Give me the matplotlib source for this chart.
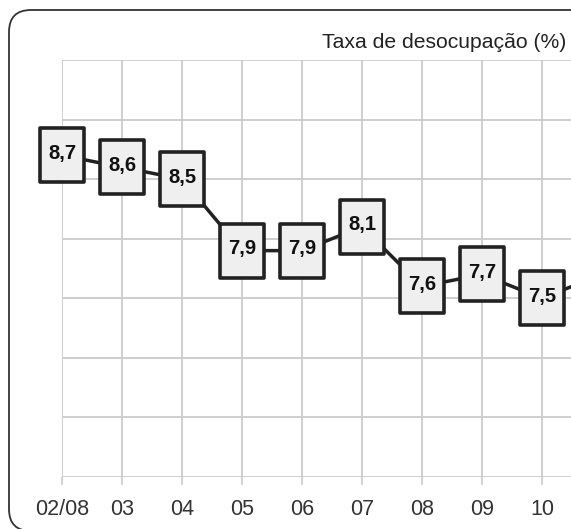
import matplotlib
matplotlib.use("Agg")
import matplotlib.pyplot as plt
from matplotlib.path import Path
from matplotlib.patches import FancyBboxPatch
from matplotlib.transforms import IdentityTransform, offset_copy
from matplotlib import font_manager

months = ["02/08", "03", "04", "05", "06", "07", "08", "09", "10", "11"]
values = [8.7, 8.6, 8.5, 7.9, 7.9, 8.1, 7.6, 7.7, 7.5, 7.7]
labels = ["8,7", "8,6", "8,5", "7,9", "7,9", "8,1", "7,6", "7,7", "7,5", ""]
title = "Taxa de desocupação (%)"

names = {f.name for f in font_manager.fontManager.ttflist}
label_font = "Liberation Sans Narrow" if "Liberation Sans Narrow" in names else "Liberation Sans"
label_size = 17 if label_font == "Liberation Sans Narrow" else 14.5

W, H = 571, 529
fig = plt.figure(figsize=(W / 100, H / 100), dpi=100)
fig.patch.set_facecolor("white")

ax = fig.add_axes([62 / W, (H - 477) / H, 1 - 62 / W, (477 - 60) / H])
ax.set_xlim(0, (W - 62) / 60.0)
ax.set_ylim(6.0, 9.5)
ax.set_facecolor("none")
for s in ax.spines.values():
    s.set_visible(False)

x = list(range(len(values)))
ax.set_xticks(x[:-1])
ax.set_xticklabels(months[:-1], fontfamily="Liberation Sans", fontsize=15.5, color="#333333")
ax.set_yticks([6.0, 6.5, 7.0, 7.5, 8.0, 8.5, 9.0, 9.5])
ax.set_yticklabels([])
ax.tick_params(axis="y", length=0)
ax.tick_params(axis="x", length=6, width=1.2, color="#cccccc", pad=10)
ax.grid(True, color="#cccccc", linewidth=1.3)
ax.set_axisbelow(True)

ax.plot(x, values, color="#222222", linewidth=2.5, zorder=3, clip_on=True)

box = Path([(-22, -27), (22, -27), (22, 27), (-22, 27), (-22, -27)],
           [Path.MOVETO, Path.LINETO, Path.LINETO, Path.LINETO, Path.CLOSEPOLY])
ax.plot(x[:-1], values[:-1], linestyle="none", marker=box, markersize=54 * 0.72,
        markerfacecolor="#efefef", markeredgecolor="#222222", markeredgewidth=2.6,
        zorder=4, clip_on=False)
tr = offset_copy(ax.transData, fig=fig, x=0, y=2, units="dots")
for xi, v, lab in zip(x, values, labels):
    if lab:
        ax.text(xi, v, lab, ha="center", va="center", fontfamily=label_font,
                fontweight="bold", fontsize=label_size, color="#111111", zorder=5,
                clip_on=False, transform=tr)

fig.text(566 / W, 1 - 42 / H, title, ha="right", va="center",
         fontfamily="Liberation Sans", fontsize=15.2, color="#222222")

frame = FancyBboxPatch((9, H - 531), 620, 531 - 10,
                       boxstyle="round,pad=0,rounding_size=22",
                       transform=IdentityTransform(), facecolor="none",
                       edgecolor="#333333", linewidth=1.3)
fig.patches.append(frame)

fig.savefig("out.png", dpi=100)
